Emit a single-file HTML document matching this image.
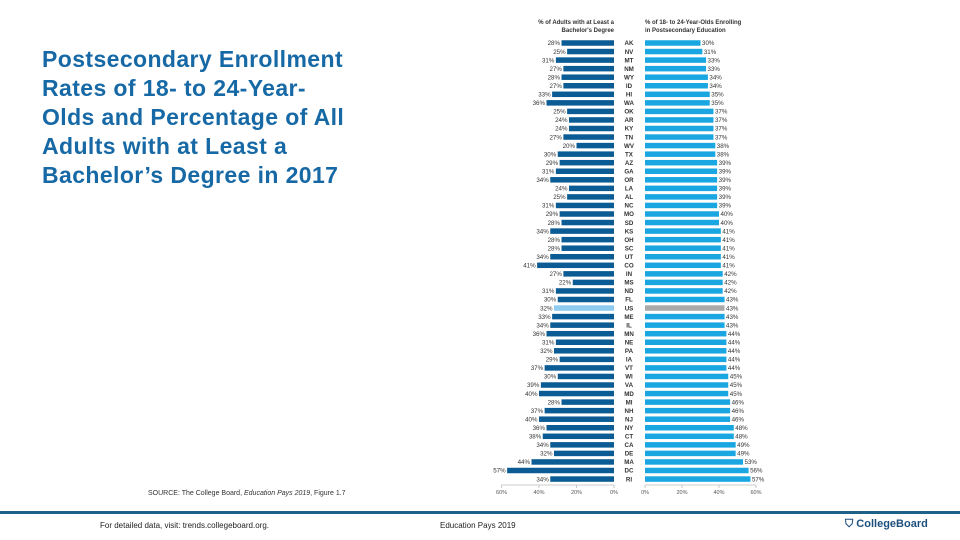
<!DOCTYPE html>
<html><head><meta charset="utf-8"><style>
html,body{margin:0;padding:0;background:#fff;}
body{width:960px;height:540px;position:relative;overflow:hidden;font-family:"Liberation Sans",sans-serif;}
#title{position:absolute;left:42px;top:45px;font-size:23px;letter-spacing:0.4px;line-height:29px;font-weight:bold;color:#1769a6;white-space:nowrap;}
#source{position:absolute;left:148px;top:490px;font-size:7px;color:#333;}
#rule{position:absolute;left:0;top:511px;width:960px;height:3px;background:#1d6189;}
.foot{position:absolute;top:521px;font-size:8px;color:#222;}
#logo{position:absolute;left:845px;top:518px;font-size:11px;font-weight:bold;color:#1d4f7d;}
svg{position:absolute;left:0;top:0;}
</style></head><body>
<div id="title">Postsecondary Enrollment<br>Rates of 18- to 24-Year-<br>Olds and Percentage of All<br>Adults with at Least a<br>Bachelor’s Degree in 2017</div>
<div id="source">SOURCE: The College Board, <i>Education Pays 2019</i>, Figure 1.7</div>
<div id="rule"></div>
<div class="foot" style="left:100px">For detailed data, visit: trends.collegeboard.org.</div>
<div class="foot" style="left:440px">Education Pays 2019</div>
<div id="logo">⛉ CollegeBoard</div>
<svg id="chart" width="960" height="540"></svg>
<script>
const states=["AK","NV","MT","NM","WY","ID","HI","WA","OK","AR","KY","TN","WV","TX","AZ","GA","OR","LA","AL","NC","MO","SD","KS","OH","SC","UT","CO","IN","MS","ND","FL","US","ME","IL","MN","NE","PA","IA","VT","WI","VA","MD","MI","NH","NJ","NY","CT","CA","DE","MA","DC","RI"];
const bachelor=[28,25,31,27,28,27,33,36,25,24,24,27,20,30,29,31,34,24,25,31,29,28,34,28,28,34,41,27,22,31,30,32,33,34,36,31,32,29,37,30,39,40,28,37,40,36,38,34,32,44,57,34];
const enroll=[30,31,33,33,34,34,35,35,37,37,37,37,38,38,39,39,39,39,39,39,40,40,41,41,41,41,41,42,42,42,43,43,43,43,44,44,44,44,44,45,45,45,46,46,46,48,48,49,49,53,56,57];
const ticks=[0,20,40,60];
const svg=document.getElementById('chart');const NS='http://www.w3.org/2000/svg';
const L0=614,LK=1.875,R0=645,RK=1.85,Y0=43,STEP=8.55,BH=5.5;
const xl=v=>L0-v*LK, xr=v=>R0+v*RK, y=i=>Y0+i*STEP;
function mk(t,a,txt){const e=document.createElementNS(NS,t);for(const k in a)e.setAttribute(k,a[k]);if(txt!==undefined)e.textContent=txt;svg.appendChild(e);return e;}
let e;
e=mk('text',{x:614,y:24,'text-anchor':'end','font-size':6,'font-weight':'bold',fill:'#333'},'% of Adults with at Least a');

e=mk('text',{x:614,y:32,'text-anchor':'end','font-size':6,'font-weight':'bold',fill:'#333'},"Bachelor's Degree");

e=mk('text',{x:645,y:24,'font-size':6,'font-weight':'bold',fill:'#333'},'% of 18- to 24-Year-Olds Enrolling');

e=mk('text',{x:645,y:32,'font-size':6,'font-weight':'bold',fill:'#333'},'in Postsecondary Education');

states.forEach((s,i)=>{
 const yc=y(i);const us=s==='US';
 e=mk('rect',{x:xl(bachelor[i]),y:yc-BH/2,width:bachelor[i]*LK,height:BH,fill:us?'#8ecbee':'#0b5c94'});
 
 e=mk('text',{x:xl(bachelor[i])-1.5,y:yc+2.2,'text-anchor':'end','font-size':6.2,fill:'#333'},bachelor[i]+'%');
 
 e=mk('text',{x:629,y:yc+2.2,'text-anchor':'middle','font-size':6.2,'font-weight':'bold',fill:'#333'},s);
 
 e=mk('rect',{x:R0,y:yc-BH/2,width:enroll[i]*RK,height:BH,fill:us?'#aaaaaa':'#1aa7e1'});
 
 e=mk('text',{x:xr(enroll[i])+1.5,y:yc+2.2,'font-size':6.2,fill:'#333'},enroll[i]+'%');
 
});
const ay=485;
e=mk('line',{x1:xl(60),x2:xl(0),y1:ay,y2:ay,stroke:'#bbb','stroke-width':0.8});

e=mk('line',{x1:xr(0),x2:xr(60),y1:ay,y2:ay,stroke:'#bbb','stroke-width':0.8});

ticks.forEach(t=>{
 e=mk('line',{x1:xl(t),x2:xl(t),y1:ay,y2:ay+3,stroke:'#bbb','stroke-width':0.8});
 
 e=mk('text',{x:xl(t),y:ay+9,'text-anchor':'middle','font-size':5.5,fill:'#555'},t+'%');
 
 e=mk('line',{x1:xr(t),x2:xr(t),y1:ay,y2:ay+3,stroke:'#bbb','stroke-width':0.8});
 
 e=mk('text',{x:xr(t),y:ay+9,'text-anchor':'middle','font-size':5.5,fill:'#555'},t+'%');
 
});
</script>
</body></html>
